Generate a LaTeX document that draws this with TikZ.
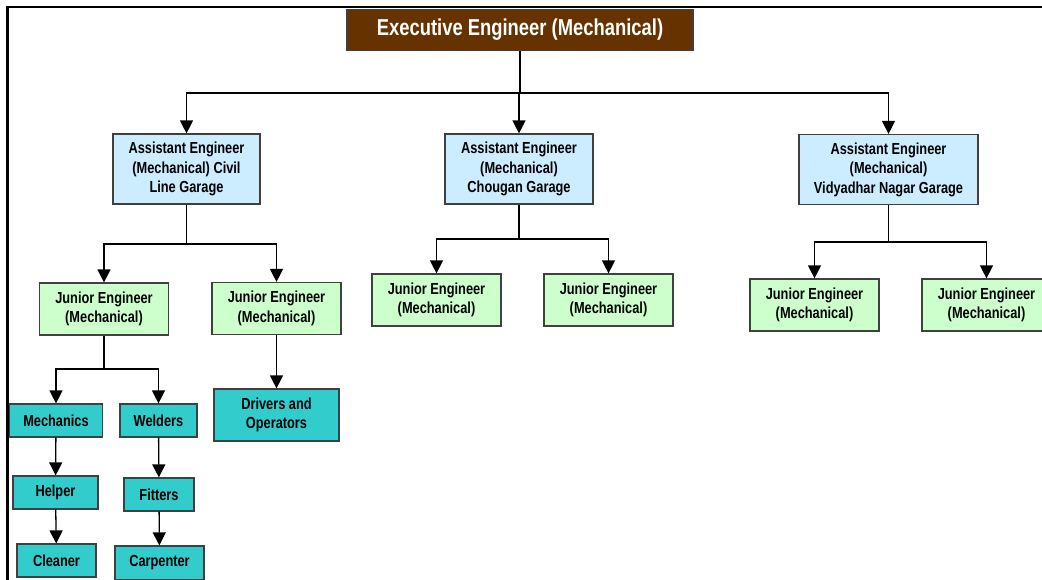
\documentclass[tikz,border=0pt]{standalone}
\usepackage{fontspec}
\setmainfont[FakeStretch=0.8]{Liberation Sans}
\usetikzlibrary{arrows.meta}
\definecolor{execbrown}{HTML}{663300}
\definecolor{aeblue}{HTML}{CCECFF}
\definecolor{jegreen}{HTML}{CCFFCC}
\definecolor{tradecyan}{HTML}{33CCCC}

\begin{document}
\begin{tikzpicture}[x=1pt,y=-1pt,
  box/.style={draw=black!75,line width=1.2pt,inner sep=0pt,align=center,
    font=\bfseries\fontsize{16}{19.5}\selectfont},
  ae/.style={box,fill=aeblue,minimum height=70},
  je/.style={box,fill=jegreen,minimum width=129,minimum height=52},
  trade/.style={box,fill=tradecyan,minimum height=33},
  link/.style={draw,line width=1.3pt},
  arr/.style={link,-{Triangle[width=13pt,length=13pt]}}]
\useasboundingbox (0,0) rectangle (1042,579);
\draw[line width=2.2pt] (7.5,580) -- (7.5,7) -- (1042,7);

\node[box,fill=execbrown,text=white,minimum width=346,minimum height=41,
  font=\bfseries\fontsize{23}{27}\selectfont] (1) at (520,30) {Executive Engineer (Mechanical)};
\node[ae,minimum width=147] (2) at (186.5,169) {Assistant Engineer\\(Mechanical) Civil\\Line Garage};
\node[ae,minimum width=148] (3) at (519,169) {Assistant Engineer\\(Mechanical)\\Chougan Garage};
\node[ae,minimum width=179] (4) at (888.5,169.5) {Assistant Engineer\\(Mechanical)\\Vidyadhar Nagar Garage};
\node[je] (5) at (104,309) {Junior Engineer\\(Mechanical)};
\node[je] (6) at (276.5,308.5) {Junior Engineer\\(Mechanical)};
\node[je] (7) at (436.5,300) {Junior Engineer\\(Mechanical)};
\node[je] (8) at (608.5,300) {Junior Engineer\\(Mechanical)};
\node[je] (9) at (814.5,305) {Junior Engineer\\(Mechanical)};
\node[je] (10) at (986.5,305) {Junior Engineer\\(Mechanical)};
\node[trade,minimum width=93] (11) at (56,420.5) {Mechanics};
\node[trade,minimum width=77] (12) at (158.5,420.5) {Welders};
\node[trade,minimum width=125,minimum height=52] (13) at (276.5,415) {Drivers and\\Operators};
\node[trade,minimum width=85] (14) at (55.5,492.5) {Helper};
\node[trade,minimum width=70] (15) at (159,494.5) {Fitters};
\node[trade,minimum width=79] (16) at (56.5,560.5) {Cleaner};
\node[trade,minimum width=89,minimum height=34] (17) at (159.5,563) {Carpenter};

% branch points
\coordinate (b1) at (520,93);
\coordinate (b2) at (186.5,244);
\coordinate (b3) at (519,239);
\coordinate (b4) at (888.5,242);
\coordinate (b5) at (104,369);

\path[link](1.south) -- (b1);
\path[arr](b1) -| (2.north);
\path[arr](b1) -| (3.north);
\path[arr](b1) -| (4.north);
\path[link](2.south) -- (b2);
\path[arr](b2) -| (5.north);
\path[arr](b2) -| (6.north);
\path[link](3.south) -- (b3);
\path[arr](b3) -| (7.north);
\path[arr](b3) -| (8.north);
\path[link](4.south) -- (b4);
\path[arr](b4) -| (9.north);
\path[arr](b4) -| (10.north);
\path[link](5.south) -- (b5);
\path[arr](b5) -| (11.north);
\path[arr](b5) -| (12.north);
\path[arr](6) -- (13);
\path[arr](11) -- (14);
\path[arr](14) -- (16);
\path[arr](12) -- (15);
\path[arr](15) -- (17);
\end{tikzpicture}
\end{document}
